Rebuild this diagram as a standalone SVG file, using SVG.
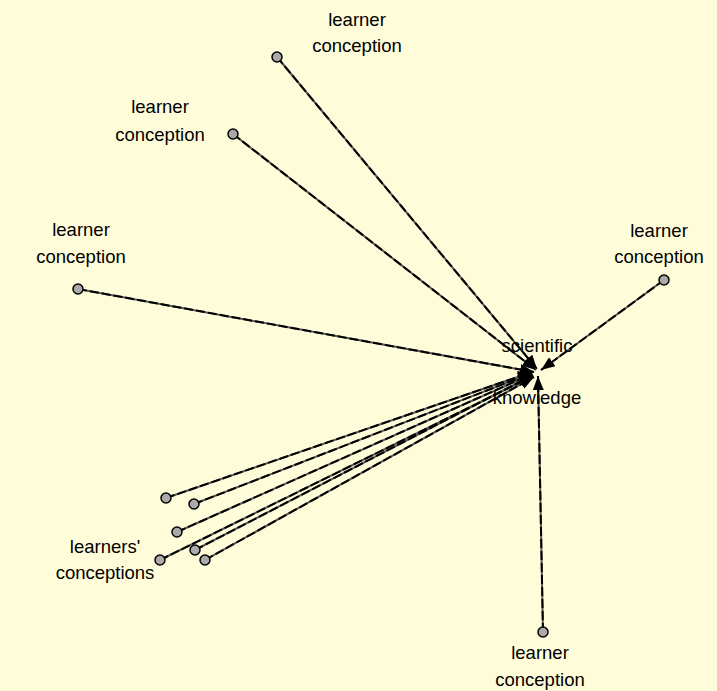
<svg xmlns="http://www.w3.org/2000/svg" width="717" height="691" viewBox="0 0 717 691">
<style>
.bg{fill:#fffdd9}
.base{stroke:#555;stroke-width:2;fill:none}
.dash{stroke:#000;stroke-width:2;stroke-dasharray:9 3;fill:none}
.dot{fill:#aaaaaa;stroke:#000;stroke-width:1.5}
text{font-family:"Liberation Sans",Arial,sans-serif;font-size:18.5px;fill:#000;text-anchor:middle}
</style>
<defs>
<marker id="ah" viewBox="0 0 14 11" refX="14" refY="5.5" markerWidth="14" markerHeight="11" markerUnits="userSpaceOnUse" orient="auto">
<path d="M0,0 L14,5.5 L0,11 z" fill="#000"/>
</marker>
</defs>
<rect class="bg" x="0" y="0" width="717" height="691"/>
<g id="connectors">
<g class="base">
<line x1="277" y1="57" x2="537" y2="369"/>
<line x1="233" y1="134" x2="536" y2="370"/>
<line x1="78" y1="289" x2="534" y2="372"/>
<line x1="664" y1="280" x2="541" y2="370"/>
<line x1="543" y1="632" x2="538" y2="376"/>
<line x1="166" y1="498" x2="532" y2="372"/>
<line x1="194" y1="504" x2="532" y2="373"/>
<line x1="177" y1="532" x2="532" y2="374"/>
<line x1="195" y1="550" x2="533" y2="375"/>
<line x1="160" y1="560" x2="533" y2="376"/>
<line x1="205" y1="560" x2="534" y2="377"/>
</g>
<g class="dash" marker-end="url(#ah)">
<line x1="277" y1="57" x2="537" y2="369"/>
<line x1="233" y1="134" x2="536" y2="370"/>
<line x1="78" y1="289" x2="534" y2="372"/>
<line x1="664" y1="280" x2="541" y2="370"/>
<line x1="543" y1="632" x2="538" y2="376"/>
<line x1="166" y1="498" x2="532" y2="372"/>
<line x1="194" y1="504" x2="532" y2="373"/>
<line x1="177" y1="532" x2="532" y2="374"/>
<line x1="195" y1="550" x2="533" y2="375"/>
<line x1="160" y1="560" x2="533" y2="376"/>
<line x1="205" y1="560" x2="534" y2="377"/>
</g>
</g>
<g id="scientific-knowledge">
<text x="537" y="352">scientific</text>
<text x="537" y="404">knowledge</text>
</g>
<g id="lc1">
<circle class="dot" cx="277" cy="57" r="5"/>
<text x="357" y="26">learner</text>
<text x="357" y="52">conception</text>
</g>
<g id="lc2">
<circle class="dot" cx="233" cy="134" r="5"/>
<text x="160" y="113">learner</text>
<text x="160" y="141">conception</text>
</g>
<g id="lc3">
<circle class="dot" cx="78" cy="289" r="5"/>
<text x="81" y="236">learner</text>
<text x="81" y="263">conception</text>
</g>
<g id="lc4">
<circle class="dot" cx="664" cy="280" r="5"/>
<text x="659" y="237">learner</text>
<text x="659" y="263">conception</text>
</g>
<g id="lc5">
<circle class="dot" cx="543" cy="632" r="5"/>
<text x="540" y="659">learner</text>
<text x="540" y="686">conception</text>
</g>
<g id="learners-conceptions">
<circle class="dot" cx="166" cy="498" r="5"/>
<circle class="dot" cx="194" cy="504" r="5"/>
<circle class="dot" cx="177" cy="532" r="5"/>
<circle class="dot" cx="195" cy="550" r="5"/>
<circle class="dot" cx="160" cy="560" r="5"/>
<circle class="dot" cx="205" cy="560" r="5"/>
<text x="105" y="553">learners'</text>
<text x="105" y="579">conceptions</text>
</g>
</svg>
